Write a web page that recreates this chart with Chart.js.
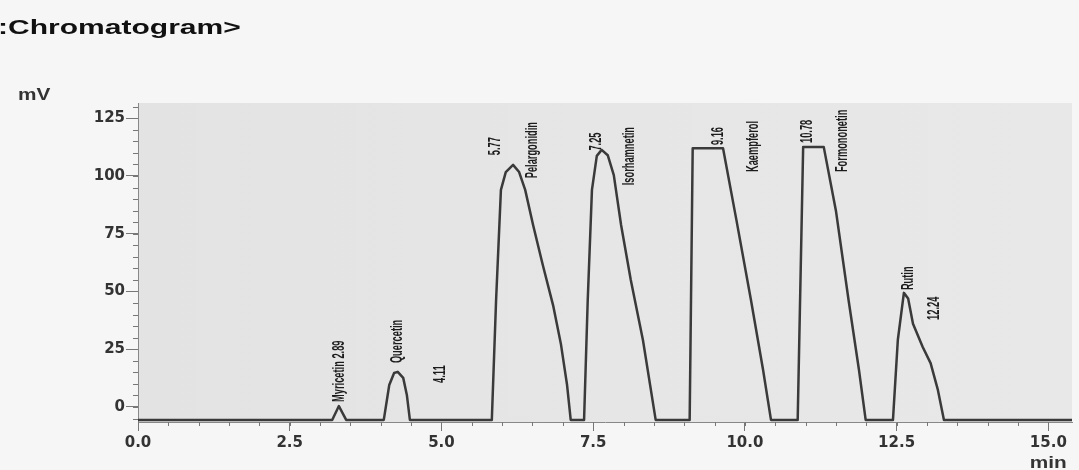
<!DOCTYPE html>
<html><head><meta charset="utf-8">
<script src="https://cdn.jsdelivr.net/npm/chart.js@4.4.1/dist/chart.umd.min.js"></script>
<style>html,body{margin:0;padding:0;background:#f6f6f6;}#wrap{width:1079px;height:470px;position:relative;}</style>
</head><body><div id="wrap"><canvas id="c"></canvas></div>
<script>
// retention time (min) and detector signal (mV)
const retentionTimes = [0, 3.20, 3.31, 3.43,
  4.05, 4.14, 4.22, 4.28, 4.37, 4.43, 4.48,
  5.83, 5.90, 5.98, 6.06, 6.18, 6.28, 6.38, 6.51, 6.67, 6.84, 6.97, 7.07, 7.13,
  7.35, 7.41, 7.48, 7.56, 7.64, 7.74, 7.84, 7.96, 8.12, 8.32, 8.53,
  9.09, 9.14, 9.64, 9.86, 10.10, 10.30, 10.43,
  10.87, 10.96, 11.30, 11.50, 11.71, 11.88, 11.99,
  12.44, 12.52, 12.62, 12.69, 12.77, 12.93, 13.06, 13.18, 13.28, 15.39];
const signalMV = [-5.6, -5.6, 0.4, -5.6,
  -5.6, 9.5, 14.7, 15.2, 12.6, 5.2, -5.6,
  -5.6, 46, 94, 101.7, 104.8, 101.7, 94, 78.8, 61.5, 44, 27, 9.5, -5.6,
  -5.6, 46, 94, 108.7, 111.3, 109, 100.4, 78.8, 55, 29, -5.6,
  -5.6, 112, 112, 81, 46.3, 16, -5.6,
  -5.6, 112.5, 112.5, 85, 46, 16, -5.6,
  -5.6, 29, 49.4, 47, 36, 26, 19, 7.4, -5.6, -5.6];

// peak annotations: text, retention-time anchor, signal level of the label's lower end
const peakLabels = ["Myricetin 2.89", "Quercetin", "4.11", "5.77", "Pelargonidin", "7.25", "Isorhamnetin", "9.16", "Kaempferol", "10.78", "Formononetin", "Rutin", "12.24"];
const labelTimes = [3.33, 4.27, 4.99, 5.90, 6.51, 7.56, 8.10, 9.57, 10.15, 11.04, 11.61, 12.70, 13.13];
const labelLevels = [2.2, 19, 10.4, 109, 99, 111, 96, 113.4, 101.7, 114.3, 101.7, 50.6, 37.7];

const xMajorStep = 2.5, xMinorStep = 0.5;
const yMajorStep = 25, yMinorStep = 5;

const decor = {
  id: 'decor',
  beforeDraw(chart) {
    const {ctx, chartArea: a} = chart;
    ctx.save();
    ctx.fillStyle = '#f6f6f6';
    ctx.fillRect(0, 0, chart.width, chart.height);
    const g = ctx.createLinearGradient(a.left, 0, a.right, 0);
    g.addColorStop(0, '#e3e3e3'); g.addColorStop(0.5, '#e6e6e6'); g.addColorStop(1, '#e8e8e8');
    ctx.fillStyle = g;
    ctx.fillRect(a.left, a.top, a.right - a.left, a.bottom - a.top);
    ctx.restore();
  },
  afterDatasetsDraw(chart) {
    const {ctx, scales: {x, y}} = chart;
    ctx.save();
    ctx.fillStyle = '#1c1c1c';
    ctx.font = 'bold 16px "Liberation Sans", Arial, sans-serif';
    ctx.textAlign = 'left';
    ctx.textBaseline = 'middle';
    peakLabels.forEach((t, i) => {
      const px = x.getPixelForValue(labelTimes[i]);
      const py = y.getPixelForValue(labelLevels[i]);
      ctx.save();
      ctx.translate(px, py);
      ctx.rotate(-Math.PI / 2);
      ctx.scale(0.58, 1);
      ctx.fillText(t, 0, 0);
      ctx.restore();
    });
    ctx.restore();
  },
  afterDraw(chart) {
    const {ctx, chartArea: a, scales: {x, y}} = chart;
    ctx.save();
    ctx.strokeStyle = '#777';
    ctx.lineWidth = 1;
    ctx.beginPath();
    for (let v = 0; v <= x.max + 1e-9; v += xMinorStep) {
      const px = Math.round(x.getPixelForValue(v)) + 0.5;
      ctx.moveTo(px, a.bottom); ctx.lineTo(px, a.bottom + 4);
    }
    for (let v = -5; v <= y.max; v += yMinorStep) {
      const py = Math.round(y.getPixelForValue(v)) + 0.5;
      ctx.moveTo(a.left - 5, py); ctx.lineTo(a.left, py);
    }
    ctx.stroke();
    // title
    ctx.fillStyle = '#111';
    ctx.textBaseline = 'alphabetic';
    ctx.textAlign = 'left';
    ctx.font = 'bold 21px "Liberation Sans", Arial, sans-serif';
    ctx.save(); ctx.translate(-2, 34); ctx.scale(1.43, 1); ctx.fillText(':Chromatogram>', 0, 0); ctx.restore();
    ctx.fillStyle = '#333';
    ctx.font = 'bold 16px "Liberation Sans", Arial, sans-serif';
    ctx.save(); ctx.translate(18, 100); ctx.scale(1.3, 1); ctx.fillText('mV', 0, 0); ctx.restore();
    ctx.textAlign = 'center';
    ctx.save(); ctx.translate(x.getPixelForValue(15), 468); ctx.scale(1.3, 1); ctx.fillText('min', 0, 0); ctx.restore();
    ctx.restore();
  }
};

new Chart(document.getElementById('c'), {
  type: 'scatter',
  data: {
    datasets: [{
      data: retentionTimes.map((t, i) => ({x: t, y: signalMV[i]})),
      showLine: true,
      borderColor: '#3a3a3a',
      borderWidth: 2.5,
      pointRadius: 0,
      tension: 0,
      borderJoinStyle: 'round'
    }]
  },
  options: {
    responsive: true,
    maintainAspectRatio: false,
    animation: false,
    events: [],
    layout: {padding: {left: 0, top: 103, right: 7, bottom: 0}},
    plugins: {legend: {display: false}, tooltip: {enabled: false}},
    scales: {
      x: {
        type: 'linear', min: 0, max: 15.39,
        afterFit(s) { s.height = 48; },
        border: {color: '#888', width: 1},
        grid: {drawOnChartArea: false, drawTicks: true, tickLength: 9, color: '#777'},
        ticks: {stepSize: xMajorStep, includeBounds: false, padding: 3, color: '#333',
          font: {family: '"DejaVu Sans", sans-serif', weight: 'bold', size: 15},
          maxRotation: 0, autoSkip: false,
          callback: v => Number(v).toFixed(1)}
      },
      y: {
        type: 'linear', min: -6.5, max: 131.6,
        afterFit(s) { s.width = 138; },
        border: {color: '#888', width: 1},
        grid: {drawOnChartArea: false, drawTicks: true, tickLength: 12, color: '#777'},
        ticks: {stepSize: yMajorStep, includeBounds: false, padding: 1, color: '#333',
          font: {family: '"DejaVu Sans", sans-serif', weight: 'bold', size: 15},
          autoSkip: false}
      }
    }
  },
  plugins: [decor]
});
</script></body></html>
